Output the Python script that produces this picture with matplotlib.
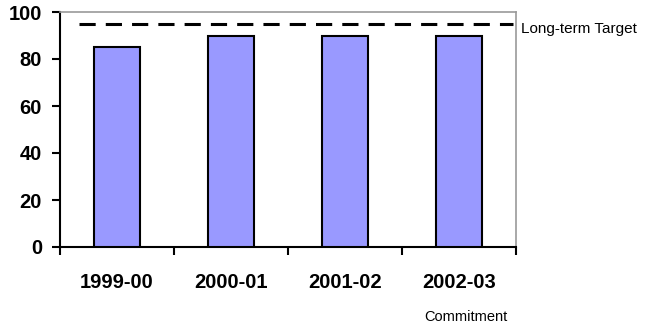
import matplotlib
matplotlib.use("Agg")
import matplotlib.pyplot as plt

plt.rcParams['font.family'] = ['Liberation Sans', 'DejaVu Sans']

years = ["1999-00", "2000-01", "2001-02", "2002-03"]
commitment = [85, 90, 90, 90]
target = 95
y_ticks = [0, 20, 40, 60, 80, 100]

fig = plt.figure(figsize=(6.45, 3.28), dpi=100)
ax = fig.add_axes([60/645, 81/328, 456/645, 235/328])

x = list(range(len(years)))
ax.bar(x, commitment, width=0.41, color="#9999FF", edgecolor="black", linewidth=1.5, zorder=3)
ax.plot([-0.33, 3.47], [target, target], color="black", linestyle=(0, (5.3, 3.3)),
        linewidth=2.2, clip_on=False, zorder=4)

ax.set_xlim(-0.5, 3.5)
ax.set_ylim(0, 100)
ax.set_yticks(y_ticks)
ax.set_yticklabels([str(v) for v in y_ticks], fontsize=14.5, fontweight="bold")

# category labels centred, tick marks on category boundaries
ax.set_xticks([-0.5, 0.5, 1.5, 2.5, 3.5])
ax.set_xticklabels([])
ax.set_xticks(x, minor=True)
ax.set_xticklabels(years, minor=True, fontsize=14.5, fontweight="bold")
ax.tick_params(axis="x", which="minor", length=0, pad=18.5)
ax.tick_params(axis="x", which="major", length=6, width=1.5, direction="out")
ax.tick_params(axis="y", length=6, width=1.5, direction="out", pad=7)

for side in ("left", "bottom"):
    ax.spines[side].set_color("black")
    ax.spines[side].set_linewidth(1.5)
for side in ("top", "right"):
    ax.spines[side].set_color("#999999")
    ax.spines[side].set_linewidth(1.2)

fig.text(521/645, 1 - 29/328, "Long-term Target", fontsize=11, va="center", ha="left")
fig.text(466/645, 1 - 317/328, "Commitment", fontsize=10.5, va="center", ha="center")

fig.savefig("out.png", dpi=100)
